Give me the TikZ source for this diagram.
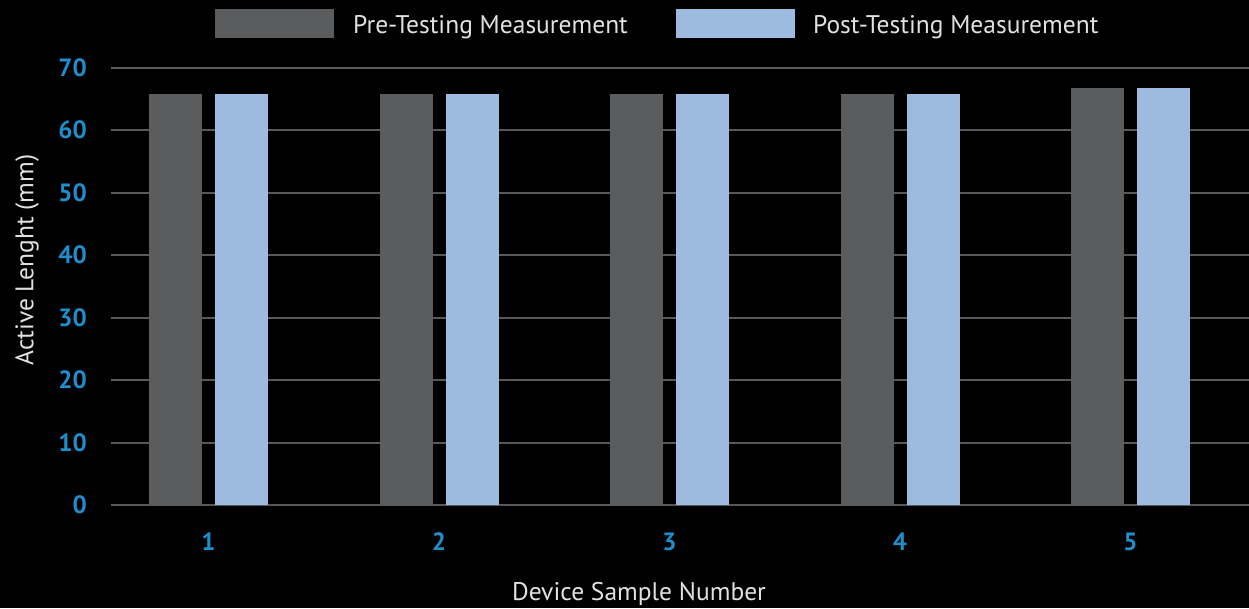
\documentclass[tikz,border=0pt]{standalone}
\usepackage{fontspec}
\setmainfont{PT Sans}
\definecolor{prebar}{RGB}{91,92,94}
\definecolor{postbar}{RGB}{157,187,222}
\definecolor{gridgray}{RGB}{88,88,88}
\definecolor{ticktext}{RGB}{30,142,204}
\definecolor{labeltext}{RGB}{225,225,225}
\tikzset{
  gridline/.style={draw=gridgray, line width=2pt},
  prestyle/.style={fill=prebar, draw=none},
  poststyle/.style={fill=postbar, draw=none},
  ticklabel/.style={text=ticktext, font=\fontsize{25}{28}\selectfont\bfseries, inner sep=0pt},
  titlelabel/.style={text=labeltext, font=\fontsize{25.5}{29}\selectfont, inner sep=0pt},
}
\begin{document}
\begin{tikzpicture}[x=1pt, y=-1pt]
  % canvas
  \fill[black] (0,0) rectangle (1249,608);
  \useasboundingbox (0,0) rectangle (1249,608);

  % horizontal grid lines and value labels
  \foreach \v in {0,10,...,70} {
    \pgfmathsetmacro{\yy}{505-6.25*\v}
    \draw[gridline] (111,\yy) -- (1249,\yy);
    \node[ticklabel, anchor=east] (tick\v) at (87,\yy) {\v};
  }

  % bars: pre-testing (dark) and post-testing (blue) per device sample
  \foreach \i/\pre/\post in {1/65.8/65.8, 2/65.8/65.8, 3/65.8/65.8, 4/65.8/65.8, 5/66.7/66.7} {
    \pgfmathsetmacro{\xl}{149+230.5*(\i-1)}
    \pgfmathsetmacro{\ypre}{505-6.25*\pre}
    \pgfmathsetmacro{\ypost}{505-6.25*\post}
    \fill[prestyle] (\xl,505) rectangle (\xl+53,\ypre);
    \fill[poststyle] (\xl+66,505) rectangle (\xl+119,\ypost);
    \node[ticklabel] (cat\i) at (\xl+59.5,542) {\i};
  }

  % axis titles
  \node[titlelabel, rotate=90] (ytitle) at (27,260) {Active Lenght (mm)};
  \node[titlelabel] (xtitle) at (639,594) {Device Sample Number};

  % legend
  \fill[prestyle] (215,9) rectangle (334,38);
  \node[titlelabel, anchor=west] (legpre) at (353,27) {Pre-Testing Measurement};
  \fill[poststyle] (676,9) rectangle (795,38);
  \node[titlelabel, anchor=west] (legpost) at (813,27) {Post-Testing Measurement};
\end{tikzpicture}
\end{document}
